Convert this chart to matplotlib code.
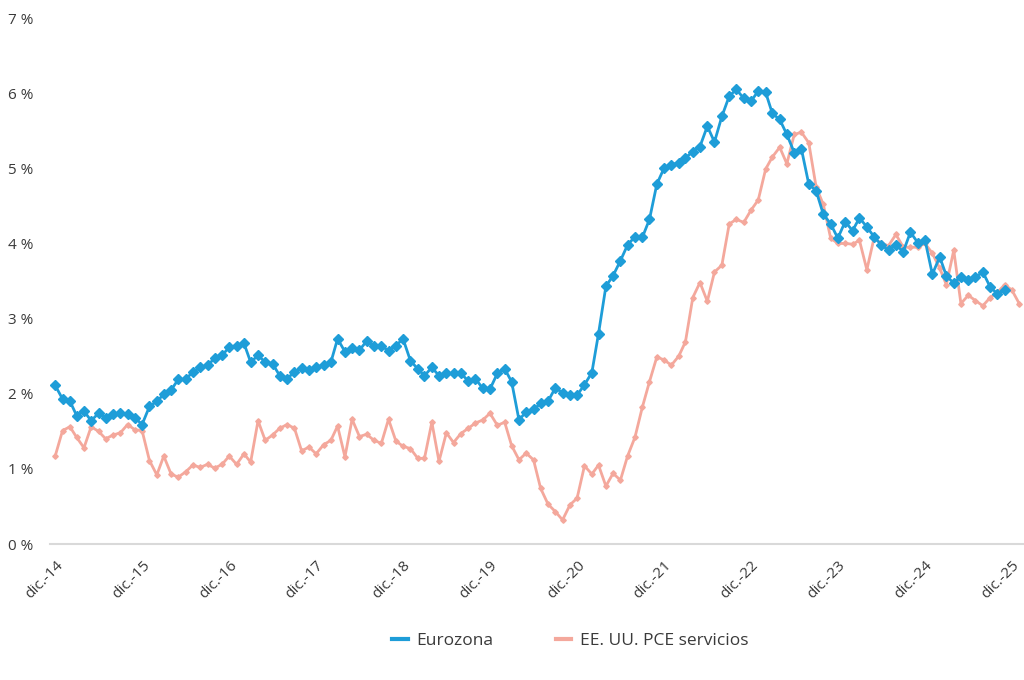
import numpy as np
import pandas as pd
import matplotlib
matplotlib.use("Agg")
import matplotlib.pyplot as plt

# monthly series, starting December 2014 (% y/y)
eurozona = [
    2.11, 1.93, 1.90, 1.71, 1.77, 1.64, 1.74, 1.68, 1.73, 1.74, 1.73, 1.68,
    1.59, 1.83, 1.90, 1.99, 2.05, 2.19, 2.19, 2.29, 2.35, 2.38, 2.47, 2.51,
    2.62, 2.64, 2.67, 2.42, 2.51, 2.42, 2.40, 2.24, 2.20, 2.29, 2.34, 2.31,
    2.35, 2.38, 2.42, 2.73, 2.56, 2.61, 2.58, 2.70, 2.63, 2.64, 2.57, 2.64,
    2.73, 2.44, 2.33, 2.24, 2.35, 2.24, 2.27, 2.27, 2.27, 2.17, 2.20, 2.07,
    2.06, 2.27, 2.33, 2.16, 1.65, 1.76, 1.79, 1.87, 1.90, 2.08, 2.01, 1.98,
    1.98, 2.12, 2.28, 2.80, 3.43, 3.57, 3.77, 3.98, 4.09, 4.08, 4.32, 4.79,
    5.00, 5.05, 5.07, 5.14, 5.22, 5.29, 5.56, 5.35, 5.69, 5.96, 6.05, 5.93,
    5.89, 6.03, 6.01, 5.73, 5.65, 5.45, 5.21, 5.26, 4.79, 4.70, 4.39, 4.26,
    4.07, 4.29, 4.17, 4.34, 4.22, 4.09, 3.98, 3.91, 3.98, 3.89, 4.15, 4.01,
    4.05, 3.59, 3.82, 3.57, 3.47, 3.56, 3.51, 3.55, 3.62, 3.42, 3.33, 3.38,
]

pce_servicios = [
    1.17, 1.51, 1.56, 1.42, 1.28, 1.56, 1.50, 1.40, 1.45, 1.48, 1.59, 1.52,
    1.51, 1.11, 0.92, 1.17, 0.93, 0.89, 0.96, 1.05, 1.02, 1.06, 1.01, 1.06,
    1.17, 1.06, 1.20, 1.09, 1.64, 1.38, 1.45, 1.54, 1.59, 1.54, 1.24, 1.29,
    1.20, 1.32, 1.38, 1.57, 1.16, 1.66, 1.43, 1.46, 1.38, 1.34, 1.66, 1.37,
    1.30, 1.27, 1.14, 1.14, 1.62, 1.10, 1.48, 1.35, 1.47, 1.54, 1.61, 1.65,
    1.74, 1.58, 1.62, 1.31, 1.12, 1.21, 1.12, 0.74, 0.53, 0.43, 0.32, 0.52,
    0.61, 1.04, 0.93, 1.05, 0.77, 0.94, 0.85, 1.17, 1.42, 1.82, 2.16, 2.49,
    2.45, 2.38, 2.50, 2.69, 3.28, 3.48, 3.23, 3.62, 3.71, 4.26, 4.32, 4.28,
    4.44, 4.58, 4.99, 5.15, 5.28, 5.06, 5.45, 5.48, 5.34, 4.75, 4.52, 4.07,
    4.00, 4.00, 3.99, 4.04, 3.65, 4.07, 4.00, 3.97, 4.12, 3.95, 3.95, 3.95,
    4.00, 3.87, 3.67, 3.45, 3.91, 3.20, 3.31, 3.24, 3.17, 3.28, 3.35, 3.45,
    3.38, 3.20,
]

tick_labels = ["dic.-14", "dic.-15", "dic.-16", "dic.-17", "dic.-18", "dic.-19",
               "dic.-20", "dic.-21", "dic.-22", "dic.-23", "dic.-24", "dic.-25"]
y_ticks = [0, 1, 2, 3, 4, 5, 6, 7]

blue = "#1E9DD8"
pink = "#F4A89C"
text_col = "#3a3a3a"

plt.rcParams["font.family"] = ["Open Sans", "DejaVu Sans"]

fechas_ez = pd.date_range("2014-12-01", periods=len(eurozona), freq="MS")
fechas_us = pd.date_range("2014-12-01", periods=len(pce_servicios), freq="MS")
ticks = pd.date_range("2014-12-01", periods=len(tick_labels), freq="12MS")

fig = plt.figure(figsize=(10.24, 6.8), dpi=100)
ax = fig.add_axes([0.049, 0.2, 0.951, 0.7735])

ax.plot(fechas_ez, eurozona, color=blue, lw=2.0, marker="D", ms=5,
        mec=blue, mfc=blue, label="Eurozona", zorder=3)
ax.plot(fechas_us, pce_servicios, color=pink, lw=2.0, marker="D", ms=2.8,
        mec=pink, mfc=pink, label="EE. UU. PCE servicios", zorder=2)

ax.set_ylim(0, 7)
ax.set_yticks(y_ticks)
ax.set_yticklabels([f"{v} %" for v in y_ticks])
ax.set_xlim(fechas_ez[0] - pd.Timedelta(days=21),
            fechas_us[-1] + pd.Timedelta(days=20))
ax.set_xticks(ticks)
ax.set_xticklabels(tick_labels, rotation=45, ha="right", rotation_mode="anchor")

for s in ["top", "right", "left"]:
    ax.spines[s].set_visible(False)
ax.spines["bottom"].set_color("#d9d9d9")
ax.spines["bottom"].set_linewidth(1.5)
ax.tick_params(axis="both", length=0, labelsize=11, colors=text_col)
ax.tick_params(axis="y", pad=12)
ax.tick_params(axis="x", pad=10)

handles = [plt.Line2D([], [], color=blue, lw=3),
           plt.Line2D([], [], color=pink, lw=3)]
fig.legend(handles, ["Eurozona", "EE. UU. PCE servicios"], loc="center",
           bbox_to_anchor=(0.557, 0.058), ncol=2, frameon=False, fontsize=12.5,
           handlelength=0.9, handletextpad=0.5, columnspacing=3.6,
           labelcolor=text_col)

fig.savefig("out.png", dpi=100)
